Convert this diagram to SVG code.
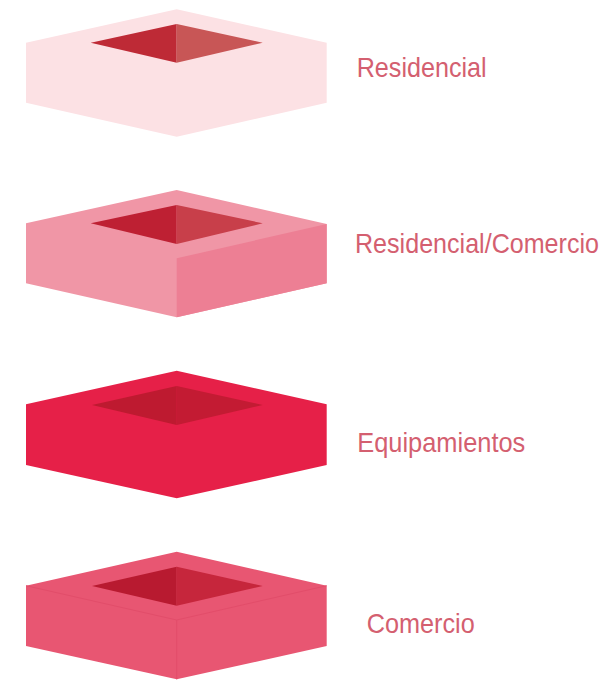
<svg xmlns="http://www.w3.org/2000/svg" width="608" height="682" viewBox="0 0 608 682">
<style>
.lbl{font-family:"Liberation Sans",Arial,sans-serif;font-size:28px;fill:#D45F70}
</style>
<rect width="608" height="682" fill="#fff"/>
<g id="residencial">
<polygon points="176.7,9.3 326.7,42.7 326.7,102.7 176.7,136.7 26,102.7 26,42.7" fill="#FCE1E4"/>
<polygon points="90.7,42.7 176.7,24 176.7,62.7" fill="#BE2A36"/>
<polygon points="176.7,24 262.7,42.7 176.7,62.7" fill="#C85656"/>
<text class="lbl" x="356.7" y="76.7" textLength="130" lengthAdjust="spacingAndGlyphs">Residencial</text>
</g>
<g id="residencial-comercio">
<polygon points="176.7,190 326.7,224 326.7,283.3 176.7,317.3 26,283.3 26,223.3" fill="#F096A6"/>
<polygon points="176.7,258.3 326.7,224 326.7,283.3 176.7,317.3" fill="#ED7F94"/>
<polygon points="90.7,223.3 176.7,205 176.7,244" fill="#BE2033"/>
<polygon points="176.7,205 262.7,223.3 176.7,244" fill="#C83F4A"/>
<text class="lbl" x="355" y="253.3" textLength="244" lengthAdjust="spacingAndGlyphs">Residencial/Comercio</text>
</g>
<g id="equipamientos">
<polygon points="176.7,370.7 326.7,404.3 326.7,465 176.7,498.3 26,465 26,404.3" fill="#E62048"/>
<polygon points="92,405 176.7,386 176.7,425" fill="#BE1A30"/>
<polygon points="176.7,386 262.7,405 176.7,425" fill="#C31B33"/>
<text class="lbl" x="357.3" y="452.3" textLength="168" lengthAdjust="spacingAndGlyphs">Equipamientos</text>
</g>
<g id="comercio">
<polygon points="176.7,551.7 326.7,585.7 326.7,646 176.7,679.3 26,646 26,585.7" fill="#E85672"/>
<polyline points="26,585.7 176.7,620 326.7,585.7" fill="none" stroke="#E24D6A" stroke-width="1"/>
<line x1="176.7" y1="620" x2="176.7" y2="679.3" stroke="#E24D6A" stroke-width="1"/>
<polygon points="92,586 176.7,566.7 176.7,605.7" fill="#B81A30"/>
<polygon points="176.7,566.7 262.7,586 176.7,605.7" fill="#C6263C"/>
<text class="lbl" x="366.7" y="633.3" textLength="108" lengthAdjust="spacingAndGlyphs">Comercio</text>
</g>
</svg>
